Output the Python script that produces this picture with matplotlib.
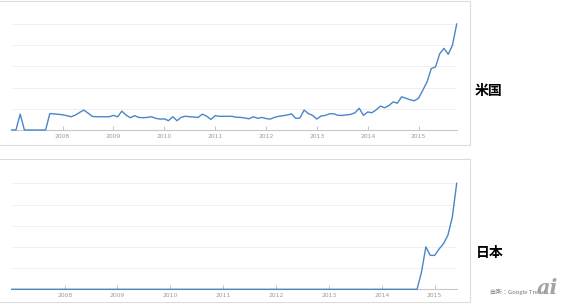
#!/usr/bin/env python3

import matplotlib
matplotlib.use('Agg')
from matplotlib import pyplot as plt
from matplotlib.patches import Rectangle
import numpy as np

# monthly search interest, Jan 2007 .. Oct 2015 (Google Trends scale 0-100)
us_values = [
    0, 0, 15, 0, 0, 0, 0, 0, 0, 15.5, 15.2, 14.8,
    14.4, 13.5, 12.5, 14, 16.5, 18.8, 16, 12.8, 12.5, 12.5, 12.5, 12.5,
    13.8, 12.5, 17.8, 14, 11.6, 13.5, 11.9, 11.6, 11.9, 12.5, 11, 10.3,
    10.5, 8.8, 12.5, 8.8, 12, 13, 12.5, 12.2, 11.9, 15, 13, 10,
    13.5, 12.9, 12.9, 12.9, 12.9, 12, 11.9, 11.3, 10.6, 12.5, 11, 11.9,
    10.8, 10.3, 11.9, 12.9, 13.5, 14.1, 15.3, 11, 11.3, 18.8, 15.5, 13.8,
    10.3, 13.2, 13.8, 15.3, 15.3, 13.8, 13.8, 14.3, 14.7, 16.3, 20.5, 13.8,
    17, 16.3, 19, 22.5, 21, 23, 26.5, 25.3, 31.3, 30, 28.5, 27.6,
    30, 37.5, 45.4, 58, 59.5, 72, 77, 71.4, 80, 100,
]
jp_values = [
    0, 0, 0, 0, 0, 0, 0, 0, 0, 0, 0, 0,
    0, 0, 0, 0, 0, 0, 0, 0, 0, 0, 0, 0,
    0, 0, 0, 0, 0, 0, 0, 0, 0, 0, 0, 0,
    0, 0, 0, 0, 0, 0, 0, 0, 0, 0, 0, 0,
    0, 0, 0, 0, 0, 0, 0, 0, 0, 0, 0, 0,
    0, 0, 0, 0, 0, 0, 0, 0, 0, 0, 0, 0,
    0, 0, 0, 0, 0, 0, 0, 0, 0, 0, 0, 0,
    0, 0, 0, 0, 0, 0, 0, 0, 0, 16, 40, 32,
    32, 38, 43, 51, 68, 100,
]
year_labels = ['2008', '2009', '2010', '2011', '2012', '2013', '2014', '2015']
year_months = [12, 24, 36, 48, 60, 72, 84, 96]
region_names = ['米国', '日本']

W, H = 567, 304
fig = plt.figure(figsize=(W / 100, H / 100), dpi=100)
fig.patch.set_facecolor('white')

line_color = '#4a86c8'
cjk = ['Noto Sans CJK JP', 'DejaVu Sans']


def px_box(left, top, right, bottom):
    # pixel box -> figure fraction rect
    return [left / W, 1 - bottom / H, (right - left) / W, (bottom - top) / H]


def card(top, bottom):
    r = Rectangle((-5 / W, 1 - bottom / H), (469.5 + 5) / W, (bottom - top) / H,
                  transform=fig.transFigure, fill=False, edgecolor='#dcdcdc',
                  linewidth=0.8, zorder=0)
    fig.patches.append(r)


def trend_axes(box, values):
    ax = fig.add_axes(box)
    x = np.arange(len(values))
    ax.plot(x, values, color=line_color, linewidth=1.0, clip_on=False, zorder=3)
    ax.set_xlim(0, len(values) - 1)
    ax.set_ylim(0, 100)
    ax.set_yticks([0, 20, 40, 60, 80, 100])
    ax.yaxis.grid(True, color='#f0f0f0', linewidth=0.7)
    ax.set_axisbelow(True)
    ax.tick_params(axis='y', left=False, labelleft=False)
    ax.set_xticks(year_months)
    ax.set_xticklabels(year_labels)
    ax.tick_params(axis='x', direction='in', length=3, width=0.5, color='#aaaaaa',
                   labelsize=4.3, labelcolor='#999999', pad=3)
    for side in ['top', 'right', 'left']:
        ax.spines[side].set_visible(False)
    ax.spines['bottom'].set_color('#c8c8c8')
    ax.spines['bottom'].set_linewidth(0.8)
    ax.patch.set_alpha(0)
    return ax


card(0.5, 145)
card(159.3, 301.7)

ax_us = trend_axes(px_box(11.7, 24, 456.7, 130), us_values)
ax_jp = trend_axes(px_box(11.7, 183.3, 456.7, 289.3), jp_values)

fig.text(475 / W, 1 - 90.5 / H, region_names[0], family=cjk, fontsize=10,
         fontweight='bold', va='center', ha='left')
fig.text(476 / W, 1 - 253.5 / H, region_names[1], family=cjk, fontsize=10,
         fontweight='bold', va='center', ha='left')

fig.text(490 / W, 1 - 292 / H, '出所：Google Trends', family=cjk, fontsize=4.3,
         color='#777777', va='center', ha='left')
# watermark sits on top of the source text, like in the original
fig.text(537 / W, 1 - 294 / H, 'ai', fontsize=15, fontstyle='italic',
         fontweight='bold', family='DejaVu Serif', color='#9a9a9a', alpha=0.9,
         va='baseline', ha='left')

fig.savefig('out.png', dpi=100, facecolor='white')
plt.close()
